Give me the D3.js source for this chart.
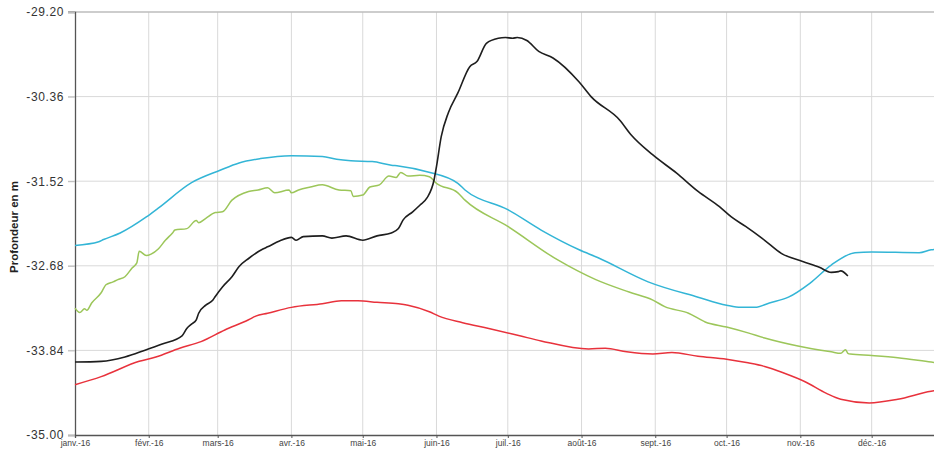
<!DOCTYPE html>
<html><head><meta charset="utf-8">
<script src="https://cdn.jsdelivr.net/npm/d3@7"></script>
<style>body{margin:0;background:#fff}svg{display:block}</style>
</head><body><svg id="c" width="934" height="450"></svg>
<script>
const yTicks = [-35.00, -33.84, -32.68, -31.52, -30.36, -29.20];
const monthLabels = ["janv.-16","févr.-16","mars-16","avr.-16","mai-16","juin-16","juil.-16","août-16","sept.-16","oct.-16","nov.-16","déc.-16"];
const yTitle = "Profondeur en m";

const seriesBlue = [
 ["2016-01-01",-32.40],["2016-01-11",-32.35],["2016-01-13",-32.32],["2016-01-20",-32.23],["2016-01-31",-32.01],
 ["2016-02-05",-31.89],["2016-02-19",-31.54],["2016-03-02",-31.37],["2016-03-10",-31.27],["2016-03-19",-31.21],
 ["2016-04-01",-31.17],["2016-04-14",-31.18],["2016-04-20",-31.22],["2016-04-26",-31.24],["2016-05-05",-31.25],
 ["2016-05-13",-31.30],["2016-05-16",-31.31],["2016-05-28",-31.39],["2016-06-10",-31.55],["2016-06-13",-31.64],
 ["2016-07-01",-31.91],["2016-07-15",-32.19],["2016-07-31",-32.46],["2016-08-08",-32.57],["2016-08-29",-32.90],
 ["2016-09-19",-33.11],["2016-10-01",-33.22],["2016-10-07",-33.25],["2016-10-13",-33.25],["2016-10-19",-33.19],
 ["2016-10-27",-33.11],["2016-11-05",-32.92],["2016-11-14",-32.67],["2016-11-24",-32.50],["2016-12-01",-32.49],
 ["2016-12-21",-32.50],["2016-12-26",-32.46],["2016-12-31",-32.45]
];
const seriesGreen = [
 ["2016-01-01",-33.26],["2016-01-03",-33.32],["2016-01-05",-33.27],["2016-01-06",-33.29],["2016-01-08",-33.19],
 ["2016-01-12",-33.05],["2016-01-14",-32.94],["2016-01-17",-32.90],["2016-01-19",-32.87],["2016-01-22",-32.83],
 ["2016-01-25",-32.71],["2016-01-27",-32.64],["2016-01-28",-32.48],["2016-01-31",-32.54],["2016-02-02",-32.52],
 ["2016-02-05",-32.45],["2016-02-08",-32.33],["2016-02-11",-32.23],["2016-02-12",-32.19],["2016-02-17",-32.17],
 ["2016-02-21",-32.06],["2016-02-22",-32.09],["2016-02-25",-32.03],["2016-02-29",-31.95],["2016-03-03",-31.94],
 ["2016-03-07",-31.78],["2016-03-14",-31.66],["2016-03-18",-31.64],["2016-03-22",-31.61],["2016-03-25",-31.68],
 ["2016-03-31",-31.64],["2016-04-01",-31.68],["2016-04-04",-31.64],["2016-04-09",-31.60],["2016-04-14",-31.57],
 ["2016-04-21",-31.64],["2016-04-26",-31.65],["2016-04-27",-31.73],["2016-05-01",-31.71],["2016-05-04",-31.60],
 ["2016-05-08",-31.57],["2016-05-12",-31.45],["2016-05-15",-31.47],["2016-05-17",-31.40],["2016-05-20",-31.45],
 ["2016-05-25",-31.44],["2016-05-29",-31.46],["2016-06-01",-31.55],["2016-06-10",-31.68],["2016-06-13",-31.78],
 ["2016-07-01",-32.14],["2016-07-22",-32.60],["2016-08-07",-32.87],["2016-08-21",-33.04],["2016-08-31",-33.15],
 ["2016-09-05",-33.24],["2016-09-15",-33.33],["2016-09-22",-33.45],["2016-10-01",-33.52],["2016-10-10",-33.60],
 ["2016-10-17",-33.67],["2016-10-31",-33.78],["2016-11-14",-33.86],["2016-11-18",-33.88],["2016-11-20",-33.83],
 ["2016-11-21",-33.88],["2016-11-22",-33.89],["2016-12-01",-33.91],["2016-12-12",-33.94],["2016-12-26",-34.00],
 ["2016-12-31",-34.02]
];
const seriesBlack = [
 ["2016-01-01",-34.00],["2016-01-12",-33.99],["2016-01-22",-33.93],["2016-01-31",-33.83],["2016-02-07",-33.75],
 ["2016-02-15",-33.64],["2016-02-17",-33.54],["2016-02-19",-33.48],["2016-02-21",-33.42],["2016-02-22",-33.33],
 ["2016-02-25",-33.22],["2016-02-28",-33.15],["2016-02-29",-33.10],["2016-03-03",-32.97],["2016-03-07",-32.83],
 ["2016-03-10",-32.69],["2016-03-14",-32.58],["2016-03-20",-32.45],["2016-03-22",-32.42],["2016-03-27",-32.34],
 ["2016-04-01",-32.29],["2016-04-03",-32.33],["2016-04-06",-32.28],["2016-04-14",-32.27],["2016-04-18",-32.30],
 ["2016-04-24",-32.27],["2016-05-01",-32.33],["2016-05-07",-32.27],["2016-05-13",-32.23],["2016-05-16",-32.17],
 ["2016-05-18",-32.05],["2016-05-22",-31.94],["2016-05-25",-31.85],["2016-05-28",-31.75],["2016-05-31",-31.50],
 ["2016-06-01",-31.32],["2016-06-03",-30.91],["2016-06-06",-30.58],["2016-06-10",-30.31],["2016-06-15",-29.95],
 ["2016-06-18",-29.88],["2016-06-22",-29.63],["2016-06-27",-29.56],["2016-06-30",-29.55],["2016-07-03",-29.56],
 ["2016-07-05",-29.55],["2016-07-09",-29.59],["2016-07-14",-29.74],["2016-07-20",-29.83],["2016-07-31",-30.16],
 ["2016-08-05",-30.36],["2016-08-17",-30.68],["2016-08-22",-30.89],["2016-08-31",-31.16],["2016-09-10",-31.41],
 ["2016-09-19",-31.66],["2016-09-28",-31.87],["2016-10-03",-32.01],["2016-10-09",-32.14],["2016-10-17",-32.33],
 ["2016-10-24",-32.51],["2016-11-02",-32.62],["2016-11-09",-32.70],["2016-11-14",-32.77],["2016-11-17",-32.76],
 ["2016-11-18",-32.75],["2016-11-21",-32.82]
];
const seriesRed = [
 ["2016-01-01",-34.31],["2016-01-12",-34.20],["2016-01-28",-33.99],["2016-02-04",-33.93],["2016-02-14",-33.81],
 ["2016-02-23",-33.72],["2016-03-04",-33.56],["2016-03-14",-33.42],["2016-03-17",-33.37],["2016-03-22",-33.33],
 ["2016-04-01",-33.25],["2016-04-14",-33.20],["2016-04-22",-33.16],["2016-04-29",-33.16],["2016-05-07",-33.18],
 ["2016-05-16",-33.20],["2016-05-20",-33.22],["2016-05-29",-33.31],["2016-06-02",-33.37],["2016-06-12",-33.46],
 ["2016-06-23",-33.54],["2016-07-06",-33.64],["2016-07-15",-33.71],["2016-08-04",-33.82],["2016-08-11",-33.81],
 ["2016-08-20",-33.86],["2016-08-31",-33.89],["2016-09-08",-33.87],["2016-09-19",-33.92],["2016-10-01",-33.96],
 ["2016-10-10",-34.01],["2016-10-17",-34.06],["2016-10-25",-34.15],["2016-11-03",-34.27],["2016-11-12",-34.43],
 ["2016-11-18",-34.51],["2016-11-30",-34.56],["2016-12-12",-34.51],["2016-12-26",-34.40],["2016-12-31",-34.38]
];

const svg = d3.select("#c");
const parse = d3.timeParse("%Y-%m-%d");
const x = d3.scaleTime().domain([parse("2016-01-01"), parse("2016-12-31")]).range([75, 943]);
const y = d3.scaleLinear().domain([-35, -29.2]).range([435, 12]);
const months = d3.range(12).map(m => new Date(2016, m, 1));
const fmt = d => d3.format(".2f")(d).replace("\u2212", "-");

// grid
svg.append("g").selectAll("line").data(months.slice(1)).join("line")
  .attr("x1", d => x(d)).attr("x2", d => x(d)).attr("y1", 12).attr("y2", 435)
  .attr("stroke", "#d9d9d9").attr("stroke-width", 1);
svg.append("g").selectAll("line").data(yTicks.slice(1)).join("line")
  .attr("x1", 68).attr("x2", 934).attr("y1", d => y(d)).attr("y2", d => y(d))
  .attr("stroke", d => d === -29.2 ? "#bdbdbd" : "#d9d9d9").attr("stroke-width", d => d === -29.2 ? 1.6 : 1);

// axes
const yAxis = d3.axisLeft(y).tickValues(yTicks).tickFormat(fmt).tickSize(7).tickPadding(4);
const gy = svg.append("g").attr("transform", "translate(75,0)").call(yAxis);
gy.select(".domain").attr("stroke", "#555").attr("stroke-width", 1.3);
gy.selectAll(".tick line").attr("stroke", "#bbb");
gy.selectAll("text").attr("font-family", "Liberation Sans, Arial, sans-serif").attr("font-size", 12)
  .attr("letter-spacing", 0.6).attr("fill", "#333");

const xAxis = d3.axisBottom(x).tickValues(months).tickFormat((d, i) => monthLabels[i]).tickSize(3).tickPadding(2);
const gx = svg.append("g").attr("transform", "translate(0,435)").call(xAxis);
gx.select(".domain").attr("stroke", "#555").attr("stroke-width", 1.3);
gx.selectAll(".tick line").attr("stroke", "#555");
gx.selectAll("text").attr("font-family", "Liberation Sans, Arial, sans-serif").attr("font-size", 8.5).attr("fill", "#444");

svg.append("text").attr("transform", "translate(18,227) rotate(-90)")
  .attr("text-anchor", "middle").attr("font-family", "Liberation Sans, Arial, sans-serif")
  .attr("font-size", 11.5).attr("font-weight", "bold").attr("fill", "#222").text(yTitle);

const line = d3.line().x(d => x(parse(d[0]))).y(d => y(d[1])).curve(d3.curveMonotoneX);
const series = [
  {data: seriesRed, color: "#e8323c", w: 1.5},
  {data: seriesGreen, color: "#9cc65a", w: 1.5},
  {data: seriesBlue, color: "#33b5d6", w: 1.5},
  {data: seriesBlack, color: "#1e1e1e", w: 1.6}
];
svg.append("g").selectAll("path").data(series).join("path")
  .attr("d", s => line(s.data)).attr("fill", "none")
  .attr("stroke", s => s.color).attr("stroke-width", s => s.w).attr("stroke-linejoin", "round");
</script></body></html>
